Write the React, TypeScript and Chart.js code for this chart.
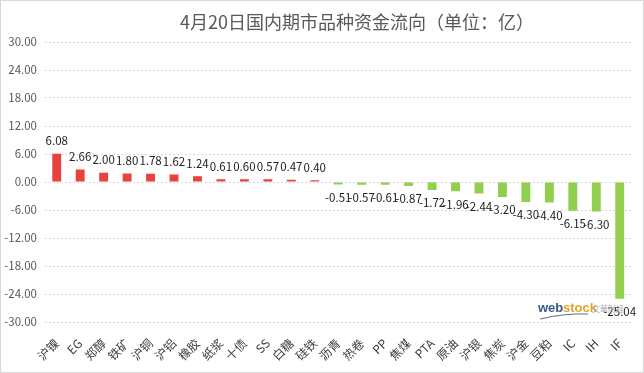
import React, { useEffect, useRef } from "react";
import { Chart, registerables } from "chart.js";

Chart.register(...registerables);

const categories = [
  "沪镍", "EG", "郑醇", "铁矿", "沪铜", "沪铝", "橡胶", "纸浆", "十债", "SS", "白糖", "硅铁",
  "沥青", "热卷", "PP", "焦煤", "PTA", "原油", "沪银", "焦炭", "沪金", "豆粕", "IC", "IH", "IF",
];
const flows = [
  6.08, 2.66, 2.0, 1.8, 1.78, 1.62, 1.24, 0.61, 0.6, 0.57, 0.47, 0.4,
  -0.51, -0.57, -0.61, -0.87, -1.72, -1.96, -2.44, -3.2, -4.3, -4.4, -6.15, -6.3, -25.04,
];
const yMin = -30;
const yMax = 30;
const yStep = 6;
const titleText = "4月20日国内期市品种资金流向（单位：亿）";

const FONT = "'Noto Sans CJK SC', 'Microsoft YaHei', sans-serif";
const RED = "#E8423F";
const GREEN = "#92CF4F";

const decorPlugin = {
  id: "decor",
  beforeDraw(chart: any) {
    const { ctx, width, height } = chart;
    ctx.save();
    ctx.fillStyle = "#ffffff";
    ctx.fillRect(0, 0, width, height);
    ctx.restore();
  },
  afterDraw(chart: any) {
    const { ctx, width, height } = chart;
    ctx.save();
    // title
    ctx.fillStyle = "#595959";
    ctx.font = `18px ${FONT}`;
    ctx.textAlign = "center";
    ctx.textBaseline = "middle";
    ctx.fillText(titleText, 357, 22);
    // data labels
    const meta = chart.getDatasetMeta(0);
    ctx.font = `11.5px ${FONT}`;
    ctx.fillStyle = "#222222";
    meta.data.forEach((bar: any, i: number) => {
      const v = flows[i];
      const txt = v.toFixed(2);
      const w = ctx.measureText(txt).width;
      let x = bar.x;
      if (x + w / 2 > 638) x = 638 - w / 2;
      const y = v >= 0 ? bar.y - 13 : bar.y + 13;
      ctx.fillText(txt, x, y);
    });
    // watermark
    ctx.textAlign = "left";
    ctx.textBaseline = "alphabetic";
    ctx.font = `bold 13px Arial, ${FONT}`;
    ctx.fillStyle = "#3b5a8c";
    ctx.fillText("web", 538, 312);
    ctx.fillStyle = "#e0a52a";
    ctx.fillText("stock", 563, 312);
    ctx.font = `8px ${FONT}`;
    ctx.fillStyle = "#aaaaaa";
    ctx.fillText("文華財經", 592, 312);
    ctx.strokeStyle = "#5a6a8a";
    ctx.lineWidth = 1;
    ctx.beginPath();
    ctx.moveTo(540, 319);
    ctx.quadraticCurveTo(565, 313, 588, 314);
    ctx.stroke();
    // outer border
    ctx.strokeStyle = "#d9d9d9";
    ctx.lineWidth = 1;
    ctx.strokeRect(0.5, 0.5, width - 1, height - 1);
    ctx.restore();
  },
};

export default function App() {
  const ref = useRef<HTMLCanvasElement | null>(null);

  useEffect(() => {
    document.body.style.margin = "0";
    if (!ref.current) return;
    const chart = new Chart(ref.current, {
      type: "bar",
      data: {
        labels: categories,
        datasets: [
          {
            data: flows,
            backgroundColor: flows.map((v) => (v >= 0 ? RED : GREEN)),
            barPercentage: 0.76,
            categoryPercentage: 0.5,
          },
        ],
      },
      options: {
        responsive: false,
        animation: false,
        layout: { padding: { top: 42, right: 4, left: 0, bottom: 0 } },
        plugins: {
          legend: { display: false },
          tooltip: { enabled: false },
          title: { display: false },
        },
        scales: {
          x: {
            grid: { display: false, drawTicks: false },
            border: { display: false },
            ticks: {
              autoSkip: false,
              maxRotation: 45,
              minRotation: 45,
              padding: 14,
              color: "#404040",
              font: { family: FONT, size: 12 },
            },
            afterFit(axis: any) {
              axis.height = 51;
            },
          },
          y: {
            min: yMin,
            max: yMax,
            grid: {
              color: "#d9d9d9",
              drawTicks: false,
            },
            border: { display: false, dash: [2, 2] },
            ticks: {
              stepSize: yStep,
              padding: 8,
              color: "#595959",
              font: { family: FONT, size: 11.5 },
              callback: (v: any) => Number(v).toFixed(2),
            },
            afterFit(axis: any) {
              axis.width = 45;
            },
          },
        },
      },
      plugins: [decorPlugin],
    } as any);
    return () => chart.destroy();
  }, []);

  return (
    <div style={{ position: "absolute", left: 0, top: 0, width: 644, height: 373 }}>
      <canvas ref={ref} width={644} height={373} style={{ display: "block" }} />
    </div>
  );
}
